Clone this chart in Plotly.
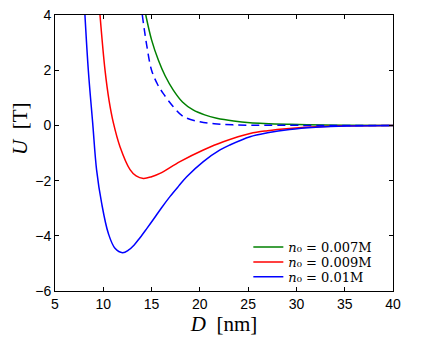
import plotly.graph_objects as go

# curves: D in nm, U in units of T
blue_d = [8.1, 8.45, 8.9, 9.31, 9.83, 10.52, 11.21, 12.0, 12.6, 13.2, 13.8, 14.5, 15.18, 16.0,
          16.9, 17.8, 18.64, 20.36, 22.09, 23.1, 25.2, 27.0, 29.3, 32.0, 35.2, 40.0]
blue_u = [4.0, 2.0, 0.1, -1.62, -2.82, -3.91, -4.45, -4.61, -4.52, -4.33, -4.07, -3.74, -3.41, -3.0,
          -2.58, -2.2, -1.86, -1.31, -0.89, -0.71, -0.41, -0.27, -0.15, -0.07, -0.02, 0.0]

red_d = [9.66, 10.18, 10.6, 11.04, 11.73, 12.77, 13.4, 14.15, 15.0, 15.87, 17.94, 20.36, 22.43,
         25.2, 27.0, 29.3, 32.0, 35.2, 40.0]
red_u = [4.0, 2.0, 0.9, 0.1, -0.77, -1.6, -1.83, -1.92, -1.86, -1.74, -1.31, -0.89, -0.59,
         -0.29, -0.19, -0.11, -0.05, -0.01, 0.0]

green_d = [14.4, 15.0, 15.7, 16.4, 17.25, 18.2, 19.3, 20.5, 21.75, 23.5, 25.2, 29.3, 33.0, 40.0]
green_u = [4.0, 3.1, 2.37, 1.8, 1.28, 0.85, 0.56, 0.38, 0.26, 0.16, 0.10, 0.04, 0.01, 0.0]

dash_d = [14.04, 14.5, 15.0, 15.6, 16.2, 17.25, 18.3, 20.0, 21.5, 23.4, 27.0, 40.0]
dash_u = [4.0, 2.9, 2.0, 1.5, 1.16, 0.68, 0.32, 0.13, 0.06, 0.02, 0.005, 0.0]

labels = ["<i>n</i>₀ = 0.007M", "<i>n</i>₀ = 0.009M", "<i>n</i>₀ = 0.01M"]

fig = go.Figure()
fig.add_trace(go.Scatter(x=green_d, y=green_u, name=labels[0], mode="lines", legend="legend",
                         line=dict(color="#008000", width=1.5, shape="spline")))
fig.add_trace(go.Scatter(x=red_d, y=red_u, name=labels[1], mode="lines", legend="legend2",
                         line=dict(color="#ff0000", width=1.5, shape="spline")))
fig.add_trace(go.Scatter(x=blue_d, y=blue_u, name=labels[2], mode="lines", legend="legend3",
                         line=dict(color="#0000ff", width=1.5, shape="spline")))
fig.add_trace(go.Scatter(x=dash_d, y=dash_u, showlegend=False, mode="lines",
                         line=dict(color="#0000ff", width=1.5, dash="8px,5px", shape="spline")))

axis = dict(showgrid=False, zeroline=False, showline=True, mirror="ticks", linecolor="black",
            linewidth=1, ticks="inside", ticklen=4, tickcolor="black", ticklabeloverflow="allow",
            automargin=False, tickfont=dict(family="Liberation Sans", size=14, color="black"))

fig.update_xaxes(range=[5, 40], tickvals=[5, 10, 15, 20, 25, 30, 35, 40],
                 title=dict(text="<i>D</i>  [nm]", standoff=2,
                            font=dict(family="Liberation Serif", size=21, color="black")),
                 **axis)
fig.update_yaxes(range=[-6, 4], tickvals=[-6, -4, -2, 0, 2, 4], **axis)

fig.add_annotation(text="<i>U</i>  [T]", textangle=-90, xref="paper", yref="paper",
                   x=-0.104, y=0.59, xanchor="center", yanchor="middle", showarrow=False,
                   font=dict(family="Liberation Serif", size=21, color="black"))

leg = dict(x=0.572, xanchor="left", yanchor="middle", bgcolor="rgba(255,255,255,0)",
           font=dict(family="DejaVu Serif", size=13, color="black"))

# page body has an 8px margin, so the figure is sized and offset for that
fig.update_layout(
    width=428, height=331,
    margin=dict(l=47, r=43, t=7, b=48),
    plot_bgcolor="white", paper_bgcolor="white",
    legend=dict(y=0.159, **leg),
    legend2=dict(y=0.105, **leg),
    legend3=dict(y=0.051, **leg),
)

fig.write_html("out.html")
